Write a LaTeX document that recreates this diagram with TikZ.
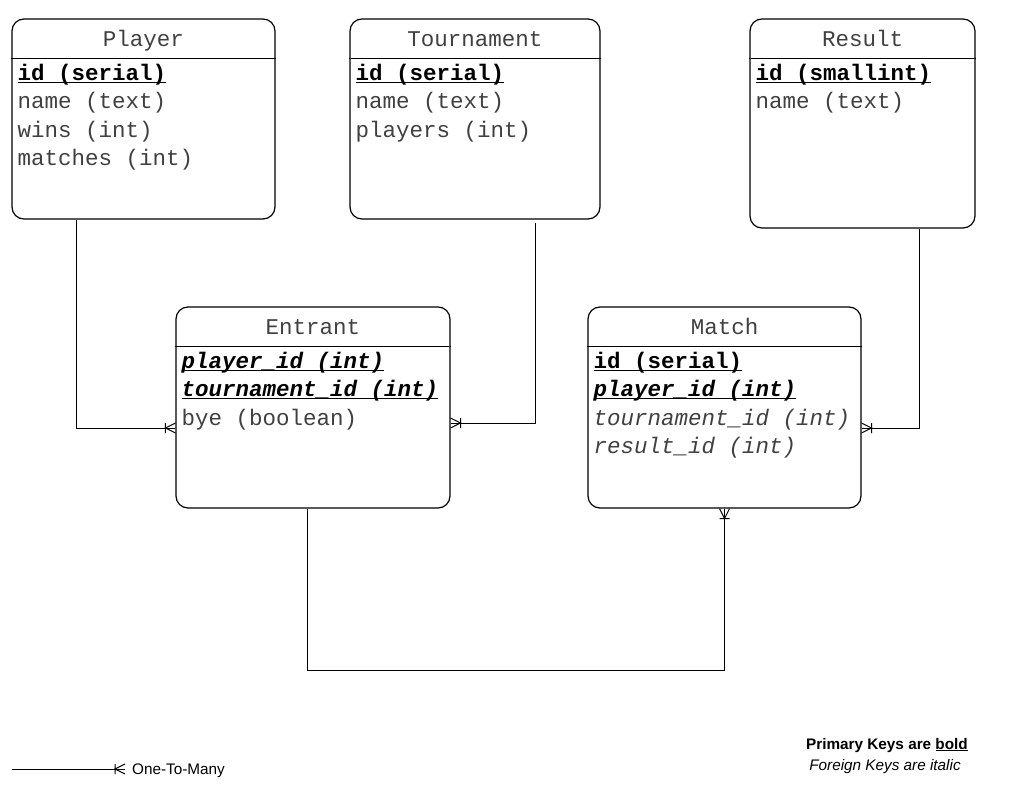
\documentclass[tikz,border=0pt]{standalone}
\usepackage{fontspec}
\setmonofont{Liberation Mono}
\setsansfont{Liberation Sans}
\usepackage{tikz}
\usetikzlibrary{arrows.meta,positioning}
\newcommand{\PK}[1]{\underline{\smash{#1}}}
% crow's foot end (many side)
\pgfdeclarearrow{
  name = Crow,
  setup code = {
    \pgfarrowssettipend{0pt}
    \pgfarrowssetlineend{0pt}
    \pgfarrowssetbackend{-10pt}
    \pgfarrowshullpoint{0pt}{5pt}
    \pgfarrowshullpoint{0pt}{-5pt}
    \pgfarrowshullpoint{-10pt}{5pt}
    \pgfarrowshullpoint{-10pt}{-5pt}
  },
  drawing code = {
    \pgfpathmoveto{\pgfpoint{0pt}{5pt}}
    \pgfpathlineto{\pgfpoint{-10pt}{0pt}}
    \pgfpathlineto{\pgfpoint{0pt}{-5pt}}
    \pgfpathmoveto{\pgfpoint{-10pt}{5pt}}
    \pgfpathlineto{\pgfpoint{-10pt}{-5pt}}
    \pgfusepathqstroke
  }
}

\begin{document}
\begin{tikzpicture}[
    x=1pt, y=-1pt,
    entity/.style={rectangle, draw, rounded corners=12pt, line width=1.2pt},
    title/.style={anchor=base, inner sep=0pt, text=black!75, font=\ttfamily\fontsize{22.5}{27}\selectfont},
    field/.style={anchor=base west, inner sep=0pt, text=black!75, font=\ttfamily\fontsize{22.5}{27}\selectfont},
    key/.style={field, text=black},
    onemany/.style={-Crow, line width=1pt},
    note/.style={inner sep=0pt, font=\sffamily\fontsize{15.3}{18}\selectfont}
]
    \useasboundingbox (0,0) rectangle (1023,789);

    % Tables
    \node[entity, minimum width=263pt, minimum height=200pt] (player) at (143.5,119) {};
    \node[title] (playert) at ([yshift=-28pt]player.north) {Player};
    \draw[line width=1.2pt] ([yshift=-40pt]player.north west) -- ([yshift=-40pt]player.north east);
    \node[key] (p1) at ([xshift=6pt,yshift=-62pt]player.north west) {\PK{\textbf{id (serial)}}};
    \node[field] (p2) at ([yshift=-28.4pt]p1.base west) {name (text)};
    \node[field] (p3) at ([yshift=-28.4pt]p2.base west) {wins (int)};
    \node[field] (p4) at ([yshift=-28.4pt]p3.base west) {matches (int)};

    \node[entity, minimum width=250pt, minimum height=200pt] (tournament) at (475,119) {};
    \node[title] (tournamentt) at ([yshift=-28pt]tournament.north) {Tournament};
    \draw[line width=1.2pt] ([yshift=-40pt]tournament.north west) -- ([yshift=-40pt]tournament.north east);
    \node[key] (t1) at ([xshift=6pt,yshift=-62pt]tournament.north west) {\PK{\textbf{id (serial)}}};
    \node[field] (t2) at ([yshift=-28.4pt]t1.base west) {name (text)};
    \node[field] (t3) at ([yshift=-28.4pt]t2.base west) {players (int)};

    \node[entity, minimum width=225pt, minimum height=209pt] (result) at (862.5,123.5) {};
    \node[title] (resultt) at ([yshift=-28pt]result.north) {Result};
    \draw[line width=1.2pt] ([yshift=-40pt]result.north west) -- ([yshift=-40pt]result.north east);
    \node[key] (r1) at ([xshift=6pt,yshift=-62pt]result.north west) {\PK{\textbf{id (smallint)}}};
    \node[field] (r2) at ([yshift=-28.4pt]r1.base west) {name (text)};

    \node[entity, minimum width=274pt, minimum height=201pt] (entrant) at (313,407.5) {};
    \node[title] (entrantt) at ([yshift=-28pt]entrant.north) {Entrant};
    \draw[line width=1.2pt] ([yshift=-40pt]entrant.north west) -- ([yshift=-40pt]entrant.north east);
    \node[key] (e1) at ([xshift=6pt,yshift=-62pt]entrant.north west) {\PK{\textbf{\itshape player\_id (int)}}};
    \node[key] (e2) at ([yshift=-28.4pt]e1.base west) {\PK{\textbf{\itshape tournament\_id (int)}}};
    \node[field] (e3) at ([yshift=-28.4pt]e2.base west) {bye (boolean)};

    \node[entity, minimum width=273pt, minimum height=201pt] (match) at (724.5,407.5) {};
    \node[title] (matcht) at ([yshift=-28pt]match.north) {Match};
    \draw[line width=1.2pt] ([yshift=-40pt]match.north west) -- ([yshift=-40pt]match.north east);
    \node[key] (m1) at ([xshift=6pt,yshift=-62pt]match.north west) {\PK{\textbf{id (serial)}}};
    \node[key] (m2) at ([yshift=-28.4pt]m1.base west) {\PK{\textbf{\itshape player\_id (int)}}};
    \node[field] (m3) at ([yshift=-28.4pt]m2.base west) {\itshape tournament\_id (int)};
    \node[field] (m4) at ([yshift=-28.4pt]m3.base west) {\itshape result\_id (int)};

    % Relations
    \draw[onemany] ([xshift=65.5pt]player.south west) |- ([yshift=-20.5pt]entrant.west);
    \draw[onemany] ([xshift=60pt,yshift=-3pt]tournament.south) |- ([yshift=-15.5pt]entrant.east);
    \draw[onemany] ([xshift=56.5pt]result.south) |- ([yshift=-20.5pt]match.east);
    \draw[onemany] ([xshift=-6pt]entrant.south) -- ++(0,162) -| (match.south);

    % Legend
    \coordinate (leg) at (12,769);
    \node[note, anchor=west, inner xsep=7pt] (one) at (125,770.5) {One-To-Many};
    \draw[onemany] (leg) -- (leg -| one.west);
    \node[note, anchor=base, font=\sffamily\bfseries\fontsize{15.3}{18}\selectfont] (pknote) at (887,749) {Primary Keys are \underline{bold}};
    \node[note, anchor=base, font=\sffamily\itshape\fontsize{15.3}{18}\selectfont] (fknote) at (885,770) {Foreign Keys are italic};
\end{tikzpicture}
\end{document}
